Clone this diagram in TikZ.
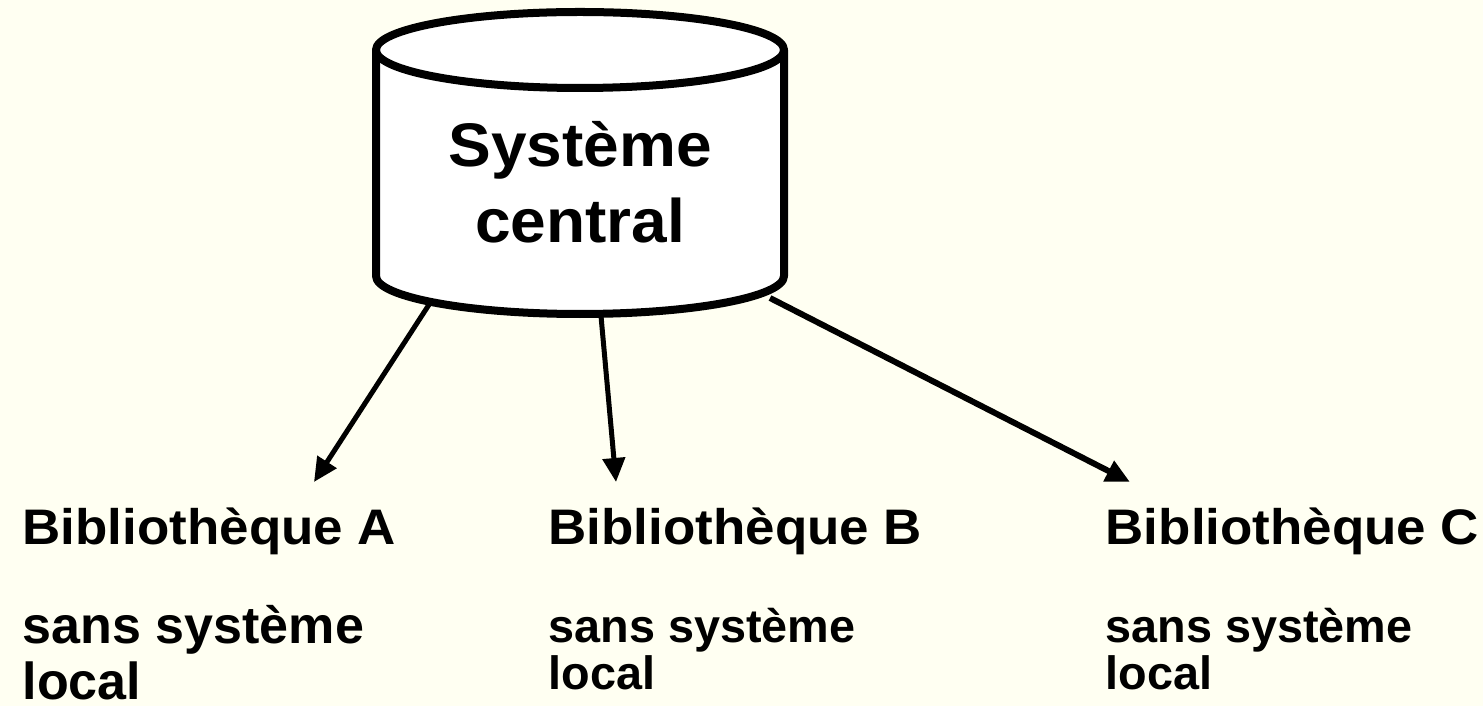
\documentclass[tikz,border=0pt]{standalone}
\usepackage{fontspec}
\setmainfont{Liberation Sans}
\newfontfamily\libfont[FakeStretch=1.06]{Liberation Sans}
\newfontfamily\cylfont[FakeStretch=1.04]{Liberation Sans}
\usetikzlibrary{arrows.meta,positioning}
\definecolor{paper}{RGB}{255,255,242}

\begin{document}
\begin{tikzpicture}[x=0.01cm,y=0.01cm,>={Triangle[length=0.24cm,width=0.22cm]},line join=round]

	% Styles for the picture
	\tikzstyle{cyl line}=[line width=0.08cm,draw=black,fill=white]
	\tikzstyle{link}=[->,line width=0.05cm]
	\tikzstyle{lib name}=[anchor=base west,inner sep=0pt,font=\libfont\bfseries\fontsize{14.2}{17}\selectfont]
	\tikzstyle{lib note}=[anchor=base west,inner sep=0pt,align=left]

	% Background
	\fill[paper] (0,0) rectangle (1483,706);
	\useasboundingbox (0,0) rectangle (1483,706);

	% Central system (cylinder)
	\path[cyl line] (376,656) -- (376,430) arc[start angle=180,end angle=360,x radius=204,y radius=38] -- (784,656) -- cycle;
	\draw[cyl line] (580,656) ellipse [x radius=204,y radius=38];
	\node[align=center,inner sep=0pt,font=\cylfont\bfseries\fontsize{17.5}{21.6}\selectfont] (central) at (580,524) {Système\\central};

	% Libraries
	\node[lib name] (libA) at (22,162) {Bibliothèque A};
	\node[lib name] (libB) at (548,162) {Bibliothèque B};
	\node[lib name] (libC) at (1105,162) {Bibliothèque C};
	\node[lib note,font=\bfseries\fontsize{14.8}{15.9}\selectfont] (noteA) at (22,7) {sans système\\local};
	\node[lib note,font=\bfseries\fontsize{13.3}{13.3}\selectfont] (noteB) at (548,17) {sans système\\local};
	\node[lib note,font=\bfseries\fontsize{13.3}{13.3}\selectfont] (noteC) at (1105,17) {sans système\\local};

	% Arrow ends
	\coordinate (outA) at (432,406);
	\coordinate (outB) at (601,390);
	\coordinate (outC) at (770,408);
	\coordinate (inA) at (314,224);
	\coordinate (inB) at (616,224);
	\coordinate (inC) at (1130,224);

	% Links
	\draw[link] (outA) -- (inA);
	\draw[link] (outB) -- (inB);
	\draw[link,line width=0.06cm] (outC) -- (inC);

\end{tikzpicture}
\end{document}
